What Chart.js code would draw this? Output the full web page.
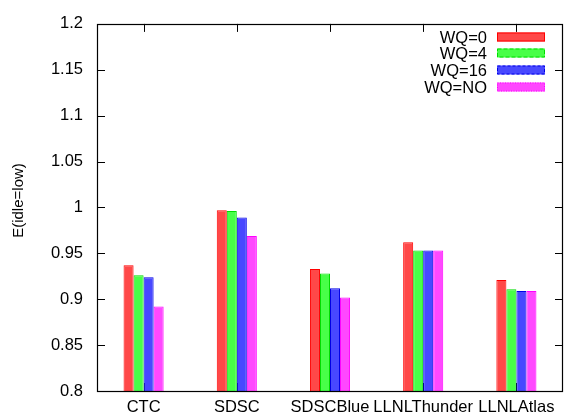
<!DOCTYPE html>
<html>
<head>
<meta charset="utf-8">
<script src="https://cdn.jsdelivr.net/npm/chart.js@4/dist/chart.umd.min.js"></script>
<style>
html,body{margin:0;padding:0;background:#fff;}
#wrap{width:565px;height:416px;}
</style>
</head>
<body>
<div id="wrap"><canvas id="c" width="565" height="416"></canvas></div>
<script>
const categories = ["CTC", "SDSC", "SDSCBlue", "LLNLThunder", "LLNLAtlas"];
const seriesNames = ["WQ=0", "WQ=4", "WQ=16", "WQ=NO"];
const wq0  = [0.937, 0.997, 0.933, 0.962, 0.921];
const wq4  = [0.926, 0.996, 0.928, 0.953, 0.911];
const wq16 = [0.924, 0.989, 0.912, 0.953, 0.909];
const wqNO = [0.892, 0.969, 0.902, 0.953, 0.909];
const yTicks = [0.8, 0.85, 0.9, 0.95, 1, 1.05, 1.1, 1.15, 1.2];
const yTitle = "E(idle=low)";

const fills = ["rgb(255,72,72)", "rgb(72,255,72)", "rgb(72,72,255)", "rgb(255,72,255)"];
const borders = ["rgb(255,0,0)", "rgb(0,220,0)", "rgb(0,0,230)", "rgb(255,0,255)"];
const dashes = [[], [4,2], [3,2], [1,1.5]];
const allSeries = [wq0, wq4, wq16, wqNO];
const FONT = "'Liberation Sans', Arial, sans-serif";
const FS = 16.5;

const frame = {
  id: 'frame',
  beforeDatasetsDraw(chart) {
    const ctx = chart.ctx, a = chart.chartArea;
    const y = chart.scales.y, x = chart.scales.x;
    ctx.save();
    ctx.strokeStyle = '#000';
    ctx.lineWidth = 1;
    ctx.beginPath();
    yTicks.forEach(v => {
      const py = Math.round(y.getPixelForValue(v)) + 0.5;
      ctx.moveTo(a.left, py); ctx.lineTo(a.left + 8, py);
      ctx.moveTo(a.right, py); ctx.lineTo(a.right - 8, py);
    });
    categories.forEach((c, i) => {
      const px = Math.round(x.getPixelForValue(i)) + 0.5;
      ctx.moveTo(px, a.top); ctx.lineTo(px, a.top + 8);
      ctx.moveTo(px, a.bottom); ctx.lineTo(px, a.bottom - 8);
    });
    ctx.stroke();
    // y axis title
    ctx.translate(19, 200.5);
    ctx.rotate(-Math.PI / 2);
    ctx.fillStyle = '#000';
    ctx.font = "15px " + FONT;
    ctx.textAlign = 'center';
    ctx.textBaseline = 'middle';
    ctx.fillText(yTitle, 0, 0);
    ctx.restore();
  },
  afterDatasetsDraw(chart) {
    const ctx = chart.ctx, a = chart.chartArea;
    ctx.save();
    ctx.strokeStyle = '#000';
    ctx.lineWidth = 1.2;
    ctx.strokeRect(Math.round(a.left) + 0.5, Math.round(a.top) + 0.5,
                   Math.round(a.right - a.left) - 1, Math.round(a.bottom - a.top));
    // legend
    ctx.font = FS + "px " + FONT;
    ctx.textAlign = 'right';
    ctx.textBaseline = 'middle';
    const rowsY = [37, 53, 70, 87];
    seriesNames.forEach((n, i) => {
      const cy = rowsY[i];
      ctx.fillStyle = '#000';
      ctx.fillText(n, 487, cy + 1);
      ctx.fillStyle = fills[i];
      ctx.fillRect(497, cy - 4.5, 48, 9);
      ctx.setLineDash(dashes[i]);
      ctx.strokeStyle = borders[i];
      ctx.lineWidth = 1;
      ctx.strokeRect(497.5, cy - 4, 47, 8);
      ctx.setLineDash([]);
    });
    ctx.restore();
  }
};

new Chart(document.getElementById('c'), {
  type: 'bar',
  data: {
    labels: categories,
    datasets: seriesNames.map((n, i) => ({
      label: n,
      data: allSeries[i],
      backgroundColor: fills[i],
      borderColor: borders[i],
      borderWidth: {top: 1, left: 1, right: 1, bottom: 0},
      borderSkipped: 'bottom'
    }))
  },
  options: {
    responsive: false,
    animation: false,
    devicePixelRatio: 1,
    layout: {padding: {left: 0, right: 2, top: 20, bottom: 0}},
    plugins: {legend: {display: false}, tooltip: {enabled: false}},
    datasets: {bar: {categoryPercentage: 0.43, barPercentage: 1.0}},
    scales: {
      x: {
        grid: {display: false, drawTicks: false},
        border: {display: false},
        ticks: {padding: 7, color: '#000', font: {family: FONT, size: FS}, maxRotation: 0, autoSkip: false},
        afterFit(s) { s.height = 25; }
      },
      y: {
        min: 0.8, max: 1.2,
        grid: {display: false, drawTicks: false},
        border: {display: false},
        afterBuildTicks(s) { s.ticks = yTicks.map(v => ({value: v})); },
        ticks: {
          padding: 14, color: '#000', font: {family: FONT, size: FS},
          callback: v => String(Math.round(v * 100) / 100)
        },
        title: {display: false},
        afterFit(s) { s.width = 97; }
      }
    }
  },
  plugins: [frame]
});
</script>
</body>
</html>
